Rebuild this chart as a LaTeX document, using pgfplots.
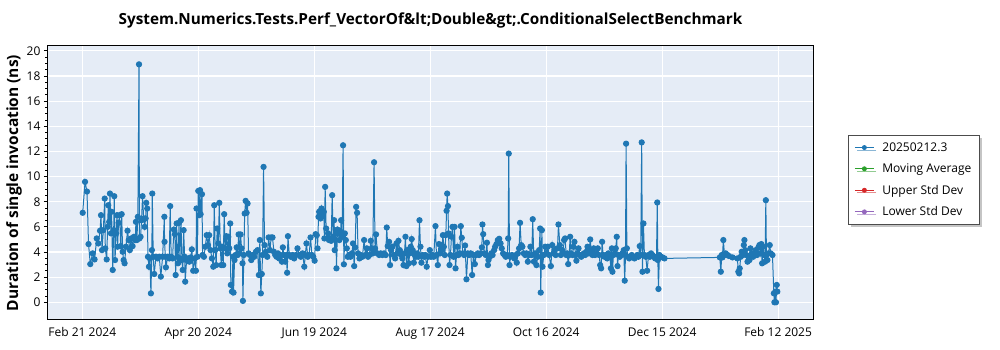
\documentclass[border=0pt]{standalone}
\usepackage{pgfplots}
\pgfplotsset{compat=1.18}
\usepackage{fontspec}
\setmainfont{Open Sans}
\usetikzlibrary{shadows}
\definecolor{bg}{RGB}{229,236,246}
\definecolor{c1}{RGB}{31,119,180}
\definecolor{c2}{RGB}{44,160,44}
\definecolor{c3}{RGB}{214,39,40}
\definecolor{c4}{RGB}{148,103,189}
\begin{document}
\begin{tikzpicture}
\begin{axis}[
  at={(0pt,0pt)}, anchor=south west,
  scale only axis, width=765pt, height=274pt,
  xmin=-17.6, xmax=374.9, ymin=-1.41, ymax=20.39,
  axis background/.style={fill=bg},
  grid=major, major grid style={white, line width=1.1pt},
  xtick={0,59.5,119,178.5,238,297.5,357},
  xticklabels={Feb 21 2024, Apr 20 2024, Jun 19 2024, Aug 17 2024, Oct 16 2024, Dec 15 2024, Feb 12 2025},
  ytick={0,2,...,20},
  minor y tick num=3,
  ytick pos=left,
  tick align=outside,
  x tick style={draw=none},
  y tick style={black, line width=0.8pt},
  major tick length=4pt, minor tick length=2.5pt,
  axis line style={black, line width=1pt},
  tick label style={font=\fontsize{12}{14}\selectfont},
  /pgf/number format/assume math mode=true,
  title={System.Numerics.Tests.Perf\_VectorOf\&lt;Double\&gt;.ConditionalSelectBenchmark},
  title style={font=\bfseries\fontsize{15.3}{18}\selectfont, at={(axis description cs:0.5,1)}, anchor=center, yshift=20pt},
  ylabel={Duration of single invocation (ns)},
  ylabel style={font=\bfseries\fontsize{15.5}{19}\selectfont, at={(axis description cs:-0.0444,0.5)}, anchor=center, rotate=0},
  legend style={at={(axis description cs:1.0458,0.675)}, anchor=north west,
    draw=black!70, fill=white, line width=0.8pt,
    font=\fontsize{12}{14}\selectfont, inner xsep=6pt, inner ysep=5pt,
    row sep=7pt,
    drop shadow={shadow xshift=2.5pt, shadow yshift=-2.5pt, fill=black!45}},
  legend cell align=left,
  legend image code/.code={\draw[mark repeat=2, mark phase=2, line width=0.9pt, mark size=2pt] plot coordinates {(0pt,0pt) (9.5pt,0pt) (19pt,0pt)}; \path (25pt,0pt);},
]
\addplot[c1, line width=1pt, mark=*, mark size=2.6pt, mark options={fill=c1, draw=c1}] coordinates {
(0.2,7.12) (1.4,9.58) (2.4,8.81) (3.2,4.63) (4.1,3.04) (5.3,3.89) (6.3,3.41) (7.4,5.08) (8.2,4.68) (9.1,5.69) (9.6,6.93) (10.1,4.15) (10.8,5.74) (11.5,8.25) (11.8,4.29) (12.5,3.41) (13.0,6.0) (13.3,7.72) (13.8,6.40) (14.2,8.65) (14.7,5.48) (15.0,7.2) (15.6,2.57) (16.1,5.74) (16.4,8.44) (16.8,3.36) (17.3,5.48) (17.8,6.93) (18.1,4.42) (18.6,6.32) (19.1,6.93) (19.7,4.47) (20.2,7.01) (20.7,4.02) (21.2,3.36) (21.7,3.1) (22.4,4.42) (23.2,5.69) (23.8,4.95) (24.4,4.15) (25.1,5.08) (25.8,4.47) (26.5,5.21) (27.2,4.95) (27.5,6.40) (28.0,4.95) (28.5,6.80) (29.1,18.93) (29.3,5.08) (29.9,5.21) (30.4,6.53) (30.9,8.44) (31.5,6.67) (32.0,6.0) (32.5,6.67) (32.8,7.91) (33.3,7.46) (33.7,3.62) (34.2,2.83) (34.7,3.49) (35.2,0.71) (35.7,4.15) (35.9,8.65) (36.4,3.62) (36.9,2.25) (37.8,3.62) (38.6,3.49) (39.5,3.62) (40.3,2.04) (41.2,3.62) (42.1,6.8) (42.2,4.81) (42.6,3.62) (42.9,2.78) (43.8,3.62) (44.6,3.49) (45.1,7.65) (45.6,3.62) (46.3,3.49) (47.0,5.79) (47.5,5.42) (47.9,2.17) (48.4,6.27) (48.7,3.62) (49.1,3.1) (49.6,6.32) (50.1,3.49) (50.6,6.53) (51.1,3.36) (51.5,2.57) (52.0,5.74) (52.5,3.62) (52.8,1.64) (53.5,3.36) (54.2,3.49) (54.9,3.23) (55.6,3.57) (56.2,4.21) (56.9,2.51) (57.6,3.49) (58.3,2.51) (58.6,7.46) (59.1,3.62) (59.5,8.86) (60.0,6.93) (60.4,8.92) (60.7,7.01) (61.4,8.6) (61.7,3.76) (62.4,3.62) (63.1,4.42) (63.8,5.34) (64.5,4.55) (65.1,5.34) (65.8,4.15) (66.5,3.49) (67.2,2.83) (67.7,7.72) (68.2,4.15) (68.7,2.96) (69.2,5.87) (69.8,4.68) (70.3,7.91) (70.8,4.29) (71.3,2.96) (71.8,4.42) (72.3,2.96) (72.8,7.01) (73.3,4.29) (73.9,5.26) (74.4,3.89) (74.9,5.21) (75.4,4.29) (75.9,6.27) (76.2,1.38) (76.8,0.85) (77.3,3.62) (77.6,0.77) (78.1,3.36) (78.6,3.76) (79.2,4.37) (79.7,3.76) (80.2,5.4) (80.7,3.89) (81.2,5.4) (81.7,4.29) (82.2,3.1) (82.4,0.11) (82.9,3.76) (83.3,7.06) (83.8,8.07) (84.3,7.12) (84.8,7.86) (85.3,3.89) (86.0,3.76) (86.7,3.36) (87.4,3.76) (88.2,3.62) (89.1,4.02) (89.9,4.15) (90.6,2.17) (91.1,4.95) (91.6,0.71) (92.1,2.25) (92.5,3.76) (93.0,10.77) (93.5,4.55) (94.2,4.02) (94.9,3.62) (95.6,5.16) (96.3,4.15) (96.9,5.16) (97.6,5.16) (98.3,4.02) (99.0,3.76) (99.7,3.62) (100.4,3.89) (101.0,3.49) (101.7,3.76) (102.4,3.23) (102.9,4.37) (103.4,3.76) (104.1,3.23) (104.8,3.76) (105.1,2.35) (105.5,5.26) (106.2,3.76) (107.0,3.62) (107.9,3.76) (108.7,3.49) (109.6,3.76) (110.4,4.29) (111.3,3.76) (112.1,3.62) (113.0,3.89) (113.9,2.83) (114.4,3.76) (115.0,4.68) (115.7,3.62) (116.4,3.76) (117.1,5.16) (117.8,3.76) (118.5,3.62) (119.2,3.31) (119.7,5.42)
(120.3,5.34) (120.7,4.29) (121.2,6.8) (121.5,7.2) (122.2,6.67) (122.7,7.46) (123.2,6.85) (123.9,7.2) (124.2,5.08) (124.6,9.18) (125.1,5.87) (125.6,5.08) (126.1,5.48) (126.6,4.95) (127.2,5.08) (127.7,4.89) (128.2,8.52) (128.7,5.21) (129.2,6.53) (129.5,4.15) (130.1,5.48) (130.4,2.7) (130.9,5.79) (131.4,5.48) (131.9,4.95) (132.5,5.61) (132.8,6.53) (133.3,5.21) (133.8,12.49) (134.2,3.02) (134.7,5.48) (135.2,4.95) (135.7,4.29) (136.2,3.62) (136.9,3.76) (137.6,3.62) (138.3,3.89) (138.9,4.68) (139.5,2.88) (140.0,4.37) (140.5,7.59) (141.0,7.12) (141.5,3.89) (142.2,3.49) (142.9,3.76) (143.7,3.62) (144.6,4.95) (145.3,3.76) (146.0,4.29) (146.6,3.62) (147.3,3.76) (148.0,4.89) (148.5,4.29) (149.0,3.89) (149.7,11.14) (150.2,4.29) (150.7,5.4) (151.4,3.89) (152.3,3.76) (153.1,3.89) (154.0,3.76) (154.8,3.89) (155.7,3.76) (156.2,5.95) (156.7,4.47) (157.4,4.81) (157.9,2.96) (158.4,4.15) (159.1,4.42) (159.8,3.76) (160.5,3.49) (161.2,4.68) (161.7,3.89) (162.2,4.89) (162.9,4.15) (163.6,3.76) (164.2,3.49) (164.8,2.96) (165.3,3.89) (165.8,5.21) (166.3,2.88) (166.8,4.15) (167.5,3.1) (168.0,3.89) (168.5,4.42) (169.0,5.03) (169.5,4.15) (170.1,3.15) (170.6,3.76) (171.1,3.62) (171.8,3.89) (172.4,3.62) (173.0,6.53) (173.5,4.42) (174.0,3.15) (174.5,3.76) (175.4,3.62) (176.0,3.76) (176.7,2.83) (177.4,3.62) (178.3,4.15) (178.9,3.62) (179.6,3.76) (180.3,3.62) (181.2,6.06) (181.7,3.76) (182.4,2.96)
(183.0,4.63) (183.5,3.89) (184.0,4.55) (184.5,4.15) (185.0,5.34) (185.5,4.42) (186.0,3.76) (186.5,5.34) (186.9,7.28) (187.2,8.65) (187.6,7.65) (187.9,5.48) (188.4,2.96) (188.9,3.76) (189.4,5.21) (189.9,6.0) (190.5,3.62) (191.0,6.0) (191.5,2.7) (192.0,3.76) (192.5,4.42) (193.0,3.76) (193.7,3.89) (194.2,6.06) (194.7,5.13) (195.2,3.89) (195.9,3.76) (196.4,4.52) (197.1,1.83) (197.8,3.89) (198.5,3.76) (199.3,3.89) (200.0,2.17) (200.7,3.76) (201.4,3.04) (202.1,3.76) (202.9,3.89) (203.6,3.76) (204.3,3.89) (205.0,4.37) (205.3,6.19) (205.7,5.42) (206.2,3.89) (207.0,3.76) (207.6,4.74) (208.1,2.96) (208.4,3.36) (209.1,3.62) (209.8,3.89) (210.5,3.76) (211.3,4.15) (211.8,4.42) (212.5,4.63) (213.2,4.95) (213.9,5.05) (214.6,4.68) (215.2,4.29) (215.9,3.89) (216.6,3.76) (217.3,3.62) (218.0,3.76) (218.5,5.08) (218.8,11.83) (219.2,2.96) (219.7,3.62) (220.4,3.76) (221.1,3.62) (221.7,3.49) (222.4,3.76) (222.9,3.15) (223.5,3.89) (224.1,4.29) (224.6,6.32) (225.2,4.55) (225.8,4.42) (226.5,3.89) (227.2,3.76) (227.9,3.89) (228.6,3.23) (229.3,3.76) (229.9,4.42) (230.6,3.76) (231.1,6.61) (231.7,3.23) (232.3,3.89) (233.0,2.96) (233.7,3.62) (234.4,4.15) (234.9,5.87) (235.2,0.77) (235.8,5.74) (236.1,2.83) (236.8,3.76) (237.5,4.42) (238.2,3.89) (238.8,4.42) (239.5,3.76) (240.4,2.88) (241.1,4.55) (241.7,3.89) (242.4,4.15) (242.9,3.76) (243.8,4.29) (244.3,6.19)
(245.0,4.55) (245.5,3.76) (246.2,4.15) (246.7,3.89) (247.2,4.95) (247.7,5.08) (248.3,3.76) (248.8,3.89) (249.3,3.04) (249.8,3.76) (250.3,5.21) (250.8,3.89) (251.5,3.76) (252.0,4.42) (252.5,4.81) (253.0,3.76) (253.5,3.31) (254.1,3.89) (254.6,4.29) (255.3,3.76) (256.0,3.62) (256.6,3.76) (257.3,3.89) (258.0,3.76) (258.7,4.02) (259.2,4.42) (259.9,3.89) (260.6,5.0) (261.1,4.15) (261.8,3.76) (262.4,4.29) (263.1,3.76) (263.8,3.89) (264.5,4.29) (265.2,3.76) (265.7,2.96) (266.2,2.7) (266.7,4.81) (267.2,3.76) (267.9,3.62) (268.6,3.76) (269.3,3.49) (269.9,3.89) (270.6,3.76) (271.2,2.7) (271.7,4.29) (272.0,2.43) (272.5,3.76) (273.2,3.89) (273.7,4.29) (274.2,5.21) (274.6,2.88) (275.1,3.76) (275.8,3.62) (276.5,3.76) (277.1,3.89) (277.8,4.15) (278.3,1.72) (278.7,3.76) (279.0,12.62) (279.4,4.29) (279.9,3.62) (280.6,3.49) (281.2,3.62) (281.9,3.76) (282.6,3.62) (283.3,3.49) (284.0,3.62) (284.7,3.76) (285.3,3.62) (286.0,4.47) (286.5,3.76) (287.0,12.72) (287.4,2.43) (287.9,6.27) (288.4,3.76) (289.1,3.62) (289.8,2.51) (290.5,3.76) (291.2,3.62) (291.8,3.89) (292.5,3.76) (293.2,3.62) (293.9,3.49) (294.6,3.62) (295.0,7.94) (295.3,3.36) (295.6,1.06) (296.1,3.76) (296.8,3.62) (297.7,3.57) (298.7,3.49)
(327.1,3.57) (327.6,2.43) (328.1,3.76) (328.4,3.57) (328.9,4.95) (329.5,3.76) (330.1,3.89) (331.0,3.76) (331.8,3.68) (333.6,3.57) (336.1,3.49) (336.6,2.43) (337.0,2.3) (337.3,2.7) (337.8,3.62) (338.3,4.02) (339.0,3.76) (339.4,4.55) (339.7,4.95) (340.1,4.15) (340.7,3.76) (341.3,3.23) (341.8,3.62) (342.3,3.36) (342.8,4.29) (343.5,3.89) (344.2,3.62) (344.8,3.76) (345.5,4.15) (346.2,3.76) (346.9,4.37) (347.4,4.55) (347.9,3.89) (348.4,4.63) (348.8,3.1) (349.3,4.42) (349.8,3.76) (350.3,3.23) (350.7,8.12) (351.0,3.76) (351.5,3.36) (352.0,3.89) (352.7,4.55) (353.2,3.89) (354.1,3.76) (354.8,0.71) (355.1,0.0) (355.6,0.85) (355.9,0.0) (356.3,1.38) (356.6,0.85)
};
\addlegendentry{20250212.3}
\addlegendimage{c2, mark=*, mark options={fill=c2}}
\addlegendentry{Moving Average}
\addlegendimage{c3, mark=*, mark options={fill=c3}}
\addlegendentry{Upper Std Dev}
\addlegendimage{c4, mark=*, mark options={fill=c4}}
\addlegendentry{Lower Std Dev}
\end{axis}
\pgfresetboundingbox
\path[use as bounding box] (-48pt,-30pt) rectangle (952pt,320pt);
\end{tikzpicture}
\end{document}
